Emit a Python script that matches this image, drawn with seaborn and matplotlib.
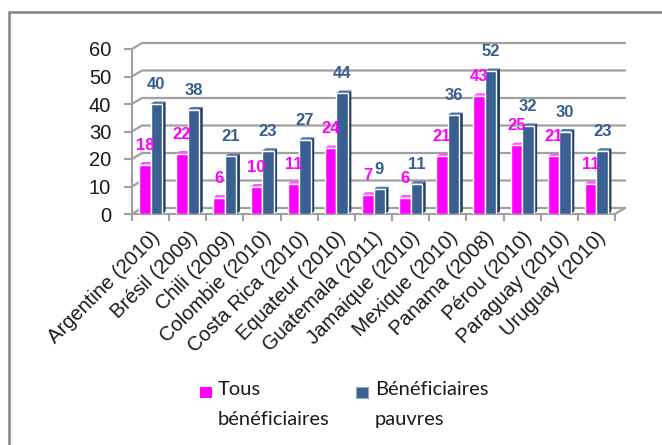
import matplotlib
matplotlib.use("Agg")
import matplotlib.pyplot as plt
import numpy as np
import pandas as pd
import seaborn as sns
from matplotlib.lines import Line2D
from matplotlib.patches import Polygon, Rectangle

# Data
pays = ["Argentine (2010)", "Brésil (2009)", "Chili (2009)", "Colombie (2010)",
        "Costa Rica (2010)", "Equateur (2010)", "Guatemala (2011)", "Jamaique (2010)",
        "Mexique (2010)", "Panama (2008)", "Pérou (2010)", "Paraguay (2010)",
        "Uruguay (2010)"]
tous = [18, 22, 6, 10, 11, 24, 7, 6, 21, 43, 25, 21, 11]
pauvres = [40, 38, 21, 23, 27, 44, 9, 11, 36, 52, 32, 30, 23]
series = ["Tous\nbénéficiaires", "Bénéficiaires\npauvres"]
yticks = [0, 10, 20, 30, 40, 50, 60]

sns.set_style("white")
plt.rcParams["font.family"] = ["Liberation Sans", "DejaVu Sans"]

df = pd.DataFrame({
    "pays": pays * 2,
    "serie": [series[0]] * len(pays) + [series[1]] * len(pays),
    "valeur": tous + pauvres,
})

W, H = 662, 445
fig = plt.figure(figsize=(W / 100, H / 100), dpi=100)
ax = fig.add_axes([132 / W, (H - 214) / H, (615 - 132) / W, (214 - 49) / H])
ax.patch.set_visible(False)

colors = ["#FF00FF", "#3A6092"]
label_colors = ["#FF00FF", "#375E8E"]
sns.barplot(data=df, x="pays", y="valeur", hue="serie", palette=colors,
            saturation=1, width=0.62, errorbar=None, legend=False, ax=ax, zorder=3)

ax.set_xlim(-0.5, len(pays) - 0.5)
ax.set_ylim(0, 60)
ax.set_yticks(yticks)
ax.set_xlabel("")
ax.set_ylabel("")
for s in ["top", "right"]:
    ax.spines[s].set_visible(False)
for s in ["left", "bottom"]:
    ax.spines[s].set_color("#A0A0A0")
    ax.spines[s].set_linewidth(1.5)

grid_c = "#A0A0A0"
# back wall gridlines with a small depth offset
dxp, dyp = 10, 6
ytr = ax.get_yaxis_transform()
for yt in yticks:
    p0 = ytr.transform((0, yt))
    p1 = ytr.transform((1, yt))
    fig.add_artist(Line2D([p0[0], p0[0] + dxp, p1[0] + dxp], [p0[1], p0[1] + dyp, p1[1] + dyp],
                          transform=None, color=grid_c, lw=1.6, zorder=0))
pr = ytr.transform((1, 0))
fig.add_artist(Line2D([pr[0], pr[0] + dxp], [pr[1], pr[1] + dyp], transform=None,
                      color=grid_c, lw=1.6, zorder=0))

# bar depth faces
px_per_x = ax.bbox.width / len(pays)
px_per_y = ax.bbox.height / 60
ddx = 3.5 / px_per_x
ddy = 2.5 / px_per_y
side_cols = ["#B000B0", "#22406A"]
top_cols = ["#FF55FF", "#4F76A8"]
for k, cont in enumerate(ax.containers):
    for bar in cont:
        x0 = bar.get_x()
        w = bar.get_width()
        h = bar.get_height()
        x1 = x0 + w
        ax.add_patch(Polygon([(x1, 0), (x1 + ddx, ddy), (x1 + ddx, h + ddy), (x1, h)],
                             closed=True, facecolor=side_cols[k], edgecolor="none", zorder=2.9))
        ax.add_patch(Polygon([(x0, h), (x0 + ddx, h + ddy), (x1 + ddx, h + ddy), (x1, h)],
                             closed=True, facecolor=top_cols[k], edgecolor="none", zorder=2.9))
    ax.bar_label(cont, labels=[str(int(b.get_height())) for b in cont], padding=8.5,
                 color=label_colors[k], fontsize=12, fontweight="bold", zorder=5)

# ticks
ax.tick_params(axis="y", left=True, length=6, width=1.5, color=grid_c, pad=9,
               labelsize=14.5, labelcolor="#1A1A1A")
ax.set_xticks(np.arange(-0.5, len(pays), 1.0), minor=True)
ax.tick_params(axis="x", which="minor", bottom=True, length=5, width=1.5, color=grid_c)
ax.tick_params(axis="x", which="major", bottom=False, length=0, pad=10,
               labelsize=14.5, labelcolor="#1A1A1A")
ax.set_xticks(range(len(pays)))
ax.set_xticklabels(pays, rotation=45, ha="right", va="top", rotation_mode="anchor")

# legend
leg_x = [200, 356]
txt_x = [218, 375]
for k in range(2):
    fig.add_artist(Rectangle((leg_x[k] / W, 1 - 398 / H), 12 / W, 11 / H,
                             transform=fig.transFigure, facecolor=colors[k],
                             edgecolor="#8FA8C8" if k else "none", lw=0.8))
    fig.text(txt_x[k] / W, 1 - 381 / H, series[k], ha="left", va="top",
             family=["Lato", "DejaVu Sans"], fontsize=14.5, color="#1A1A1A", linespacing=1.95)

# outer frame (top and left edges)
fig.add_artist(Line2D([8.5 / W, 1], [1 - 11.5 / H] * 2, transform=fig.transFigure,
                      color="#848484", lw=1.8))
fig.add_artist(Line2D([8.5 / W] * 2, [0, 1 - 11.5 / H], transform=fig.transFigure,
                      color="#848484", lw=1.8))

fig.savefig("out.png", dpi=100)
